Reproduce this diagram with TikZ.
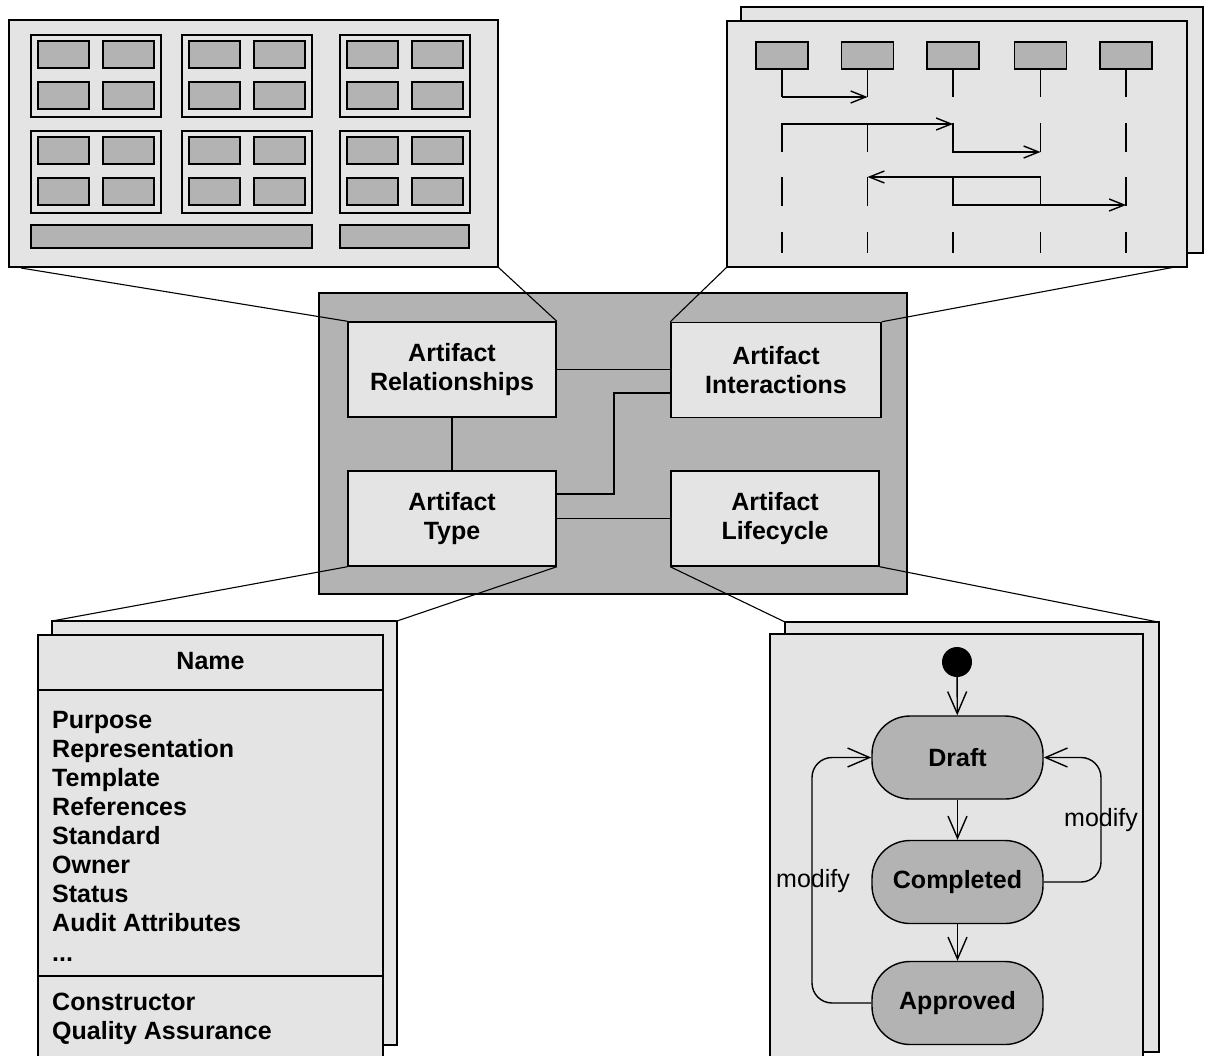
\documentclass[tikz,border=0pt]{standalone}
\usepackage{fontspec}
\setmainfont{Liberation Sans}
\usetikzlibrary{arrows.meta}
\definecolor{lg}{RGB}{228,228,228}
\definecolor{mg}{RGB}{179,179,179}
\begin{document}
\begin{tikzpicture}[x=1pt,y=-1pt,line join=miter,
  lbox/.style={draw,fill=lg,line width=1.5pt},
  gbox/.style={draw,fill=mg,line width=1.5pt},
  conn/.style={line width=1.4pt},
  zl/.style={line width=1.1pt},
  lline/.style={line width=1.4pt},
  sarrow/.style={line width=1.4pt,-{Straight Barb[length=15pt,width=12pt]}},
  barrow/.style={line width=1.4pt,-{Straight Barb[length=22pt,width=19pt]}},
  bigfont/.style={font=\fontsize{25}{29}\selectfont\bfseries},
  regfont/.style={font=\fontsize{25}{29}\selectfont},
  art/.style={draw,fill=lg,line width=1.5pt,minimum width=208pt,minimum height=95pt,
    align=center,inner sep=0pt,bigfont},
  lifebox/.style={gbox,minimum width=52pt,minimum height=27pt,inner sep=0pt},
  statebox/.style={draw,fill=mg,line width=1.4pt,rounded corners=38pt,
    minimum width=171pt,minimum height=83pt,inner sep=0pt,bigfont},
  attr/.style={anchor=base west,inner sep=0pt,bigfont}]
\fill[white] (0,0) rectangle (1206,1055);
\useasboundingbox (0,0) rectangle (1206,1055);

% ---------- top-left panel ----------
\draw[lbox] (9,20) rectangle (498,267);
\foreach \gx in {31,182,340}
  \foreach \gy in {35,131} {
    \draw[lbox,line width=1.3pt] (\gx,\gy) rectangle ++(130,82);
    \foreach \dx in {7,72}
      \foreach \dy in {6,47}
        \draw[gbox] (\gx+\dx,\gy+\dy) rectangle ++(51,27);
  }
\draw[gbox] (31,225) rectangle (312,248);
\draw[gbox] (340,225) rectangle (469,248);

% ---------- top-right panel ----------
\draw[lbox] (741,7) rectangle (1203,253);
\draw[lbox] (727,21) rectangle (1187,267);
\foreach \x [count=\i] in {782,867.5,953,1040.5,1126}
  \node[lifebox] (ll\i) at (\x,55.5) {};
\foreach \x in {782,867.5,953,1040.5,1126} {
  \draw[lline] (\x,69) -- (\x,97);
  \draw[lline] (\x,123) -- (\x,152);
  \draw[lline] (\x,177) -- (\x,206);
  \draw[lline] (\x,232) -- (\x,253);
}
\coordinate (a1) at (782,97);   \coordinate (a1e) at (867.5,97);
\coordinate (a2) at (782,124);  \coordinate (a2e) at (953,124);
\coordinate (a3) at (953,124);  \coordinate (a3m) at (953,152); \coordinate (a3e) at (1040.5,152);
\coordinate (a4) at (1040.5,177); \coordinate (a4e) at (867.5,177);
\coordinate (a5) at (953,177);  \coordinate (a5m) at (953,205); \coordinate (a5e) at (1126,205);
\draw[sarrow] (a1) -- (a1e);
\draw[sarrow] (a2) -- (a2e);
\draw[sarrow] (a3) -- (a3m) -- (a3e);
\draw[sarrow] (a4) -- (a4e);
\draw[sarrow] (a5) -- (a5m) -- (a5e);

% ---------- center ----------
\draw[gbox] (319,293) rectangle (907,594);
\node[art] (arel) at (452,369.5) {Artifact\\Relationships};
\node[art,minimum width=210pt] (aint) at (776,370) {Artifact\\Interactions};
\node[art] (atyp) at (452,518.5) {Artifact\\Type};
\node[art] (alif) at (775,518.5) {Artifact\\Lifecycle};
\coordinate (j1) at (614,494);
\draw[conn] (arel.east) -- (arel.east -| aint.west);
\draw[conn] ([yshift=-23pt]aint.west) -| (j1) -- (j1 -| atyp.east);
\draw[conn] (arel.south) -- (atyp.north);
\draw[conn] (atyp.east) -- (atyp.east -| alif.west);

% ---------- zoom lines ----------
\coordinate (tl1) at (21,268);
\coordinate (tl2) at (498,267);
\coordinate (tr1) at (727,267);
\coordinate (tr2) at (1175,267);
\coordinate (bl1) at (52,621);
\coordinate (bl2) at (397,621);
\coordinate (br1) at (785,622);
\coordinate (br2) at (1158,622);
\draw[zl] (tl1) -- (arel.north west);
\draw[zl] (tl2) -- (arel.north east);
\draw[zl] (tr1) -- (aint.north west);
\draw[zl] (tr2) -- (aint.north east);
\draw[zl] (atyp.south west) -- (bl1);
\draw[zl] (atyp.south east) -- (bl2);
\draw[zl] (alif.south west) -- (br1);
\draw[zl] (alif.south east) -- (br2);

% ---------- bottom-left class ----------
\draw[lbox] (52,621) rectangle (397,1045);
\fill[lg] (38,635) rectangle (383,1056);
\draw[line width=1.5pt] (38,1056) -- (38,635) -- (383,635) -- (383,1056);
\draw[line width=1.5pt] (38,690) -- (383,690);
\draw[line width=1.5pt] (38,976) -- (383,976);
\node[anchor=base,inner sep=0pt,bigfont] (cname) at (210.5,669) {Name};
\foreach \t [count=\i from 0] in {Purpose,Representation,Template,References,Standard,Owner,Status,Audit Attributes}
  \node[attr] (attr\i) at (52,728+29.1*\i) {\t};
\node[attr] (dots) at (52,961) {...};
\node[attr] (op1) at (52,1010) {Constructor};
\node[attr] (op2) at (52,1039) {Quality Assurance};

% ---------- bottom-right state machine ----------
\draw[lbox] (785,622) rectangle (1159,1052);
\fill[lg] (770,634) rectangle (1143,1056);
\draw[line width=1.5pt] (770,1056) -- (770,634) -- (1143,634) -- (1143,1056);
\node[circle,fill=black,minimum size=30pt,inner sep=0pt] (init) at (957,662) {};
\node[statebox] (draft) at (957.5,757.5) {Draft};
\node[statebox] (compl) at (957.5,882) {Completed};
\node[statebox] (appr) at (957.5,1003) {Approved};
\coordinate (lc1) at (812,1003);
\coordinate (lc2) at (812,757.5);
\coordinate (rc1) at (1101,882);
\coordinate (rc2) at (1101,757.5);
\draw[barrow] (init) -- (draft);
\draw[barrow] (draft) -- (compl);
\draw[barrow] (compl) -- (appr);
\draw[barrow,rounded corners=20pt] (appr.west) -- (lc1) -- (lc2) -- (draft.west);
\draw[barrow,rounded corners=20pt] (compl.east) -- (rc1) -- (rc2) -- (draft.east);
\node[regfont,inner sep=0pt] (m1) at (813,881) {modify};
\node[regfont,inner sep=0pt] (m2) at (1101,820) {modify};
\end{tikzpicture}
\end{document}
